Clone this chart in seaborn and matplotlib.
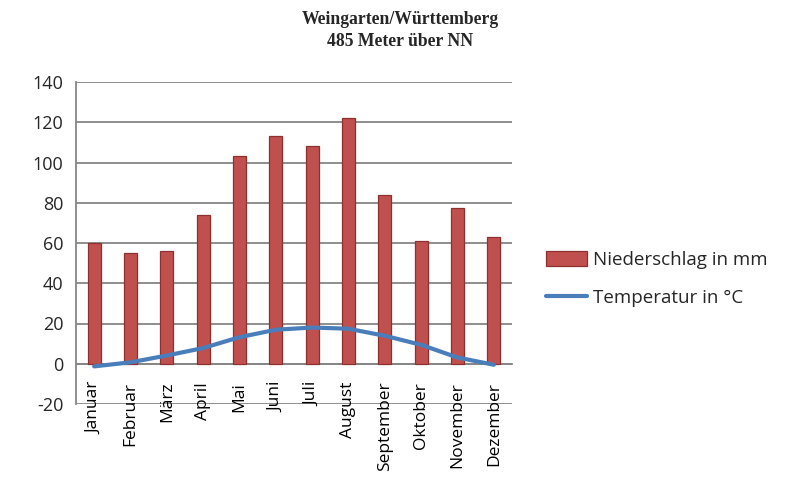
import matplotlib
matplotlib.use("Agg")
import matplotlib.pyplot as plt
import seaborn as sns
import pandas as pd
import numpy as np
from matplotlib.patches import Patch
from matplotlib.lines import Line2D

months = ["Januar", "Februar", "März", "April", "Mai", "Juni", "Juli",
          "August", "September", "Oktober", "November", "Dezember"]
niederschlag = [60, 55, 56, 74, 103, 113, 108, 122, 84, 61, 77.5, 63]
temperatur = [-1.3, 0.7, 4.1, 7.8, 13.2, 16.9, 18.0, 17.4, 13.9, 9.4, 3.1, -0.5]
yticks = [-20, 0, 20, 40, 60, 80, 100, 120, 140]

df = pd.DataFrame({"Monat": months, "Niederschlag": niederschlag, "Temperatur": temperatur})

sns.set_theme(style="white")
plt.rcParams['font.family'] = ['Open Sans', 'DejaVu Sans']

fig = plt.figure(figsize=(8, 4.82), dpi=100)
ax = fig.add_axes([76/800, 1-404/482, 436/800, (404-82)/482])

sns.barplot(data=df, x="Monat", y="Niederschlag", ax=ax, color="#C0504D",
            saturation=1, width=0.35, edgecolor="#8E302D", linewidth=0.9, zorder=3)
sns.lineplot(x=np.arange(len(months)), y=df["Temperatur"], ax=ax, color="#4A7EBB",
             linewidth=3, zorder=4)

ax.set_xlim(-0.5, len(months) - 0.5)
ax.set_ylim(-20, 140)
ax.set_yticks(yticks)
ax.set_yticklabels([str(v) for v in yticks], fontsize=13)
ax.set_xlabel("")
ax.set_ylabel("")
for v in yticks:
    ax.axhline(v, color="#868686", linewidth=1.3, zorder=1)

for s in ["top", "right"]:
    ax.spines[s].set_visible(False)
ax.spines["left"].set_color("#868686")
ax.spines["left"].set_linewidth(1.3)
ax.spines["bottom"].set_position(("data", 0))
ax.spines["bottom"].set_color("#868686")
ax.spines["bottom"].set_linewidth(1.3)

ax.set_xticks(range(len(months)))
ax.set_xticklabels(months, rotation=90, fontsize=12.5, va="top")
ax.set_xticks(np.arange(-0.5, len(months), 1), minor=True)
ax.tick_params(axis="x", which="major", length=0, pad=13, colors="black")
ax.tick_params(axis="x", which="minor", length=6, direction="out", color="#868686", width=1.2)
ax.tick_params(axis="y", which="major", length=5, direction="out", color="#868686", width=1.2, pad=4)
ax.set_axisbelow(False)

fig.text(0.5, 1-20/482, "Weingarten/Württemberg", ha="center", va="center",
         family="Liberation Serif", fontweight="bold", fontsize=12.7)
fig.text(0.5, 1-42/482, "485 Meter über NN", ha="center", va="center",
         family="Liberation Serif", fontweight="bold", fontsize=12.7)

handles = [Patch(facecolor="#C0504D", edgecolor="#8E302D", linewidth=0.9),
           Line2D([0], [0], color="#4A7EBB", linewidth=3)]
fig.legend(handles, ["Niederschlag in mm", "Temperatur in °C"],
           loc="center left", bbox_to_anchor=(529/800, 1-279/482), frameon=False,
           fontsize=13.5, handlelength=2.2, handleheight=0.8, labelspacing=1.05,
           handletextpad=0.3)

fig.savefig("out.png", dpi=100)
